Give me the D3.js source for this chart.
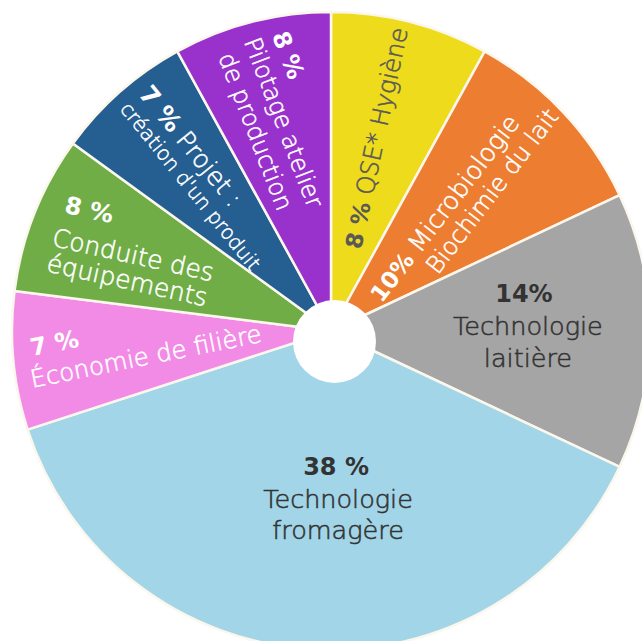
<!DOCTYPE html>
<html><head><meta charset="utf-8">
<script src="https://cdn.jsdelivr.net/npm/d3@7"></script>
<style>html,body{margin:0;padding:0;background:#fff;} svg{display:block;} text{white-space:pre;}</style>
</head><body>
<script>
// ---- data ----
const categories = ["QSE* Hygiène","Microbiologie Biochimie du lait","Technologie laitière","Technologie fromagère","Économie de filière","Conduite des équipements","Projet : création d'un produit","Pilotage atelier de production"];
const values = [8, 10, 14, 38, 7, 8, 7, 8];
const pctLabels = ["8 %", "10%", "14%", "38 %", "7 %", "8 %", "7 %", "8 %"];
const nameLines = [
  ["QSE* Hygiène"],
  ["Microbiologie", "Biochimie du lait"],
  ["Technologie", "laitière"],
  ["Technologie", "fromagère"],
  ["Économie de filière"],
  ["Conduite des", "équipements"],
  ["Projet :", "création d'un produit"],
  ["Pilotage atelier", "de production"]
];
const colors = ["#EDDB1C", "#ED7D31", "#A5A5A5", "#A1D5E7", "#F28BE6", "#70AD47", "#255E91", "#9932CC"];
const textColors = ["#595959", "#ffffff", "#333333", "#333333", "#ffffff", "#ffffff", "#ffffff", "#ffffff"];

// ---- layout (label placement in polar coords relative to pie centre) ----
const layout = [
  {r: 86.4, a: 20.3, rot: -78, anchor: "start", lines: [
    {dx: 0, dy: 0, parts: [{p: 1, s: 23}, {n: 0, s: 24.5, pre: " "}]}]},
  {r: 57.6, a: 61.9, rot: -52.5, anchor: "start", lines: [
    {dx: 0, dy: 0, parts: [{p: 1, s: 23}, {n: 0, s: 25, pre: " "}]},
    {dx: 56.5, dy: 27, parts: [{n: 1, s: 24}]}]},
  {r: 197.1, a: 81.5, rot: 0, anchor: "middle", lines: [
    {dx: -2, dy: 0, parts: [{p: 1, s: 24}]},
    {dx: 2, dy: 33, parts: [{n: 0, s: 25.5}]},
    {dx: 2, dy: 65, parts: [{n: 1, s: 25.5}]}]},
  {r: 144.1, a: 177.6, rot: 0, anchor: "middle", lines: [
    {dx: -1, dy: 0, parts: [{p: 1, s: 24}]},
    {dx: 1, dy: 33, parts: [{n: 0, s: 25.5}]},
    {dx: 1, dy: 64, parts: [{n: 1, s: 25.5}]}]},
  {r: 300, a: 265.2, rot: -11.3, anchor: "start", lines: [
    {dx: 0, dy: 0, parts: [{p: 1, s: 24}]},
    {dx: -6, dy: 31, parts: [{n: 0, s: 24.5}]}]},
  {r: 297.5, a: 293.7, rot: 12.5, anchor: "start", lines: [
    {dx: 5, dy: 0, parts: [{p: 1, s: 24}]},
    {dx: 0, dy: 35, parts: [{n: 0, s: 25}]},
    {dx: 0, dy: 61, parts: [{n: 1, s: 25}]}]},
  {r: 305.6, a: 320.8, rot: 51, anchor: "start", lines: [
    {dx: 0, dy: 0, parts: [{p: 1, s: 25}, {n: 0, s: 25, pre: " "}]},
    {dx: 0, dy: 24, parts: [{n: 1, s: 20}]}]},
  {r: 303.7, a: 348.6, rot: 69, anchor: "start", lines: [
    {dx: 2, dy: 0, parts: [{p: 1, s: 24}]},
    {dx: -2, dy: 28.3, parts: [{n: 0, s: 24}]},
    {dx: 3, dy: 57.8, parts: [{n: 1, s: 24}]}]}
];

const W = 642, H = 641, cx = 331, cy = 331, R = 319;
const svg = d3.select("body").append("svg").attr("width", W).attr("height", H);
svg.append("rect").attr("width", W).attr("height", H).attr("fill", "#fff");
const g = svg.append("g").attr("transform", `translate(${cx},${cy})`);

const pie = d3.pie().sort(null).value(d => d)(values);
const arc = d3.arc().innerRadius(0).outerRadius(R);

g.selectAll("path.slice").data(pie).join("path")
  .attr("class", "slice")
  .attr("d", arc)
  .attr("fill", (d, i) => colors[i])
  .attr("stroke", "#fbf7ec")
  .attr("stroke-width", 2.5)
  .attr("stroke-linejoin", "round");

// centre hole
g.append("circle").attr("cx", 3.5).attr("cy", 10.5).attr("r", 41.5).attr("fill", "#fff");

// labels
layout.forEach((L, i) => {
  const ang = L.a * Math.PI / 180;
  const x = L.r * Math.sin(ang), y = -L.r * Math.cos(ang);
  const lg = g.append("g").attr("transform", `translate(${x},${y}) rotate(${L.rot})`);
  L.lines.forEach(line => {
    const t = lg.append("text")
      .attr("x", line.dx).attr("y", line.dy)
      .attr("text-anchor", L.anchor)
      .attr("font-family", "'DejaVu Sans', sans-serif")
      .attr("fill", textColors[i]);
    line.parts.forEach(pt => {
      const txt = pt.p ? pctLabels[i] : (pt.pre || "") + nameLines[i][pt.n];
      const ts = t.append("tspan")
        .attr("font-size", pt.s)
        .attr("font-weight", pt.p ? "bold" : 300)
        .text(txt);
      if (!pt.p) ts.attr("stroke", textColors[i]).attr("stroke-width", 0.55);
    });
  });
});
</script>
</body></html>
